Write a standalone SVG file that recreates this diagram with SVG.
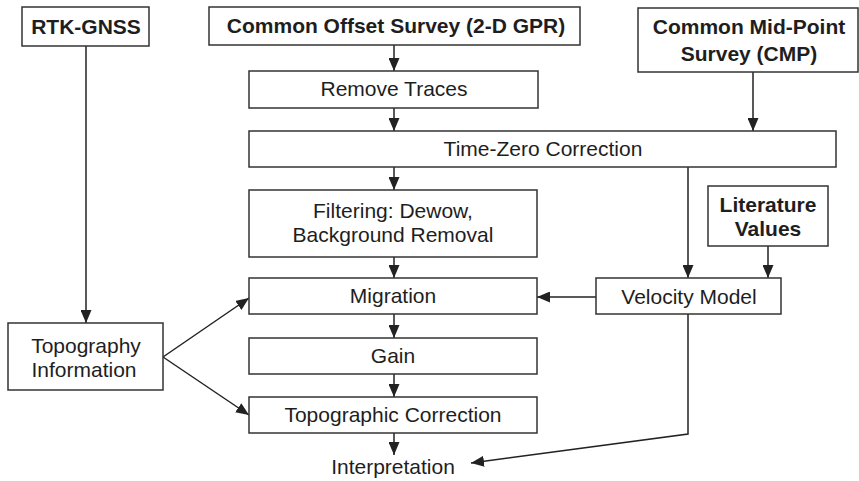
<svg xmlns="http://www.w3.org/2000/svg" width="859" height="481" viewBox="0 0 859 481">
  <style>
    .box { fill: #ffffff; stroke: #333333; stroke-width: 1.5; }
    .t { font-family: "Liberation Sans", Arial, sans-serif; font-size: 21px; fill: #1e1e1e; text-anchor: middle; }
    .b { font-weight: bold; }
    .c { fill: none; stroke: #222222; stroke-width: 1.5; }
  </style>
  <defs>
    <marker id="arr" viewBox="0 0 13 11" refX="13" refY="5.5" markerWidth="13" markerHeight="11" orient="auto" markerUnits="userSpaceOnUse">
      <path d="M0,0 L13,5.5 L0,11 z" fill="#222222"/>
    </marker>
  </defs>
  <rect width="859" height="481" fill="#ffffff"/>

  <g id="connectors">
    <path class="c" d="M86,46 V323" marker-end="url(#arr)"/>
    <path class="c" d="M394,45 V71" marker-end="url(#arr)"/>
    <path class="c" d="M394,108 V131" marker-end="url(#arr)"/>
    <path class="c" d="M753,72 V131" marker-end="url(#arr)"/>
    <path class="c" d="M394,167 V190" marker-end="url(#arr)"/>
    <path class="c" d="M688,167 V278" marker-end="url(#arr)"/>
    <path class="c" d="M768,246 V278" marker-end="url(#arr)"/>
    <path class="c" d="M394,257 V278" marker-end="url(#arr)"/>
    <path class="c" d="M596,297 H537" marker-end="url(#arr)"/>
    <path class="c" d="M394,314 V338" marker-end="url(#arr)"/>
    <path class="c" d="M394,374 V397" marker-end="url(#arr)"/>
    <path class="c" d="M394,433 V455" marker-end="url(#arr)"/>
    <path class="c" d="M163,357 L249,298" marker-end="url(#arr)"/>
    <path class="c" d="M163,357 L249,415" marker-end="url(#arr)"/>
    <path class="c" d="M688,314 V434 L471,463" marker-end="url(#arr)"/>
  </g>

  <g id="rtk-gnss">
    <rect class="box" x="22" y="7" width="127" height="39"/>
    <text class="t b" x="86" y="34">RTK-GNSS</text>
  </g>
  <g id="common-offset">
    <rect class="box" x="209" y="7" width="371" height="38"/>
    <text class="t b" x="396" y="33">Common Offset Survey (2-D GPR)</text>
  </g>
  <g id="cmp">
    <rect class="box" x="638" y="8" width="220" height="64"/>
    <text class="t b" x="749" y="34">Common Mid-Point</text>
    <text class="t b" x="749" y="61">Survey (CMP)</text>
  </g>
  <g id="remove-traces">
    <rect class="box" x="249" y="71" width="289" height="37"/>
    <text class="t" x="394" y="96">Remove Traces</text>
  </g>
  <g id="time-zero">
    <rect class="box" x="249" y="131" width="587" height="36"/>
    <text class="t" x="543" y="156">Time-Zero Correction</text>
  </g>
  <g id="filtering">
    <rect class="box" x="249" y="190" width="288" height="67"/>
    <text class="t" x="393" y="218">Filtering: Dewow,</text>
    <text class="t" x="393" y="242">Background Removal</text>
  </g>
  <g id="literature">
    <rect class="box" x="708" y="186" width="120" height="60"/>
    <text class="t b" x="768" y="212">Literature</text>
    <text class="t b" x="768" y="236">Values</text>
  </g>
  <g id="migration">
    <rect class="box" x="249" y="278" width="288" height="36"/>
    <text class="t" x="393" y="303">Migration</text>
  </g>
  <g id="velocity-model">
    <rect class="box" x="596" y="278" width="185" height="36"/>
    <text class="t" x="689" y="304">Velocity Model</text>
  </g>
  <g id="topography">
    <rect class="box" x="8" y="323" width="155" height="67"/>
    <text class="t" x="86" y="353">Topography</text>
    <text class="t" x="84" y="377">Information</text>
  </g>
  <g id="gain">
    <rect class="box" x="249" y="338" width="288" height="36"/>
    <text class="t" x="393" y="363">Gain</text>
  </g>
  <g id="topo-correction">
    <rect class="box" x="249" y="397" width="288" height="36"/>
    <text class="t" x="393" y="422">Topographic Correction</text>
  </g>
  <g id="interpretation">
    <text class="t" x="393" y="474">Interpretation</text>
  </g>
</svg>
